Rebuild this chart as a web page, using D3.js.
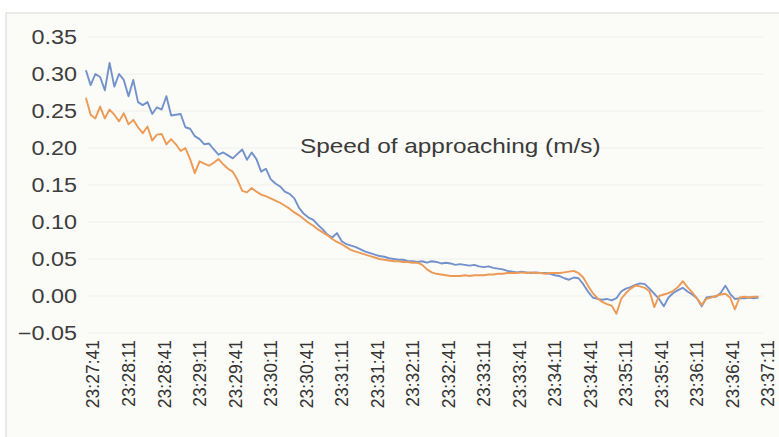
<!DOCTYPE html>
<html>
<head>
<meta charset="utf-8">
<script src="https://cdn.jsdelivr.net/npm/d3@7"></script>
<style>
  html, body { margin: 0; padding: 0; background: #ffffff; }
  svg { display: block; }
</style>
</head>
<body>
<svg id="chart" width="779" height="437"></svg>
<script>
// ---------- data ----------
const chartTitle = "Speed of approaching (m/s)";
const tickLabels = ["23:27:41","23:28:11","23:28:41","23:29:11","23:29:41","23:30:11","23:30:41",
  "23:31:11","23:31:41","23:32:11","23:32:41","23:33:11","23:33:41","23:34:11","23:34:41",
  "23:35:11","23:35:41","23:36:11","23:36:41","23:37:11"];
const yTickValues = [-0.05, 0, 0.05, 0.10, 0.15, 0.20, 0.25, 0.30, 0.35];
const sampleStart = "23:27:35";
const sampleStepSeconds = 4;
const seriesBlue = [
  0.305,0.285,0.300,0.296,0.278,0.315,0.283,0.300,0.292,0.270,
  0.292,0.262,0.258,0.262,0.246,0.255,0.252,0.270,0.244,0.245,
  0.246,0.228,0.226,0.216,0.212,0.205,0.206,0.198,0.191,0.194,
  0.190,0.186,0.192,0.198,0.184,0.194,0.185,0.168,0.172,0.158,
  0.152,0.148,0.141,0.138,0.132,0.119,0.111,0.106,0.103,0.096,
  0.090,0.083,0.079,0.085,0.074,0.070,0.068,0.066,0.063,0.060,
  0.058,0.056,0.054,0.053,0.051,0.050,0.049,0.049,0.047,0.047,
  0.046,0.047,0.045,0.047,0.046,0.044,0.045,0.044,0.042,0.043,
  0.042,0.041,0.042,0.040,0.039,0.040,0.038,0.037,0.036,0.034,
  0.033,0.032,0.033,0.032,0.031,0.032,0.031,0.031,0.030,0.028,
  0.027,0.024,0.022,0.025,0.024,0.016,0.006,-0.002,-0.004,-0.005,
  -0.004,-0.006,-0.003,0.006,0.010,0.012,0.015,0.017,0.016,0.010,
  0.003,-0.004,-0.014,-0.002,0.004,0.008,0.011,0.006,0.002,-0.003,
  -0.014,-0.002,-0.001,-0.001,0.004,0.014,0.003,-0.004,-0.003,-0.003,
  -0.002,-0.003,-0.002
];
const seriesOrange = [
  0.268,0.245,0.240,0.256,0.240,0.252,0.245,0.236,0.247,0.232,
  0.238,0.228,0.220,0.229,0.210,0.218,0.219,0.205,0.212,0.205,
  0.196,0.200,0.185,0.166,0.182,0.179,0.176,0.180,0.185,0.178,
  0.172,0.168,0.157,0.142,0.140,0.146,0.141,0.137,0.135,0.132,
  0.129,0.126,0.122,0.118,0.113,0.109,0.104,0.099,0.095,0.090,
  0.086,0.082,0.077,0.073,0.070,0.066,0.062,0.060,0.058,0.056,
  0.054,0.052,0.050,0.049,0.048,0.047,0.047,0.046,0.046,0.045,
  0.045,0.042,0.036,0.032,0.030,0.029,0.028,0.027,0.027,0.027,
  0.028,0.027,0.028,0.028,0.028,0.029,0.029,0.030,0.030,0.031,
  0.031,0.031,0.032,0.031,0.032,0.031,0.031,0.030,0.031,0.031,
  0.031,0.032,0.033,0.034,0.031,0.025,0.014,0.004,-0.003,-0.008,
  -0.011,-0.013,-0.024,-0.004,0.004,0.010,0.014,0.013,0.011,0.006,
  -0.015,0.000,0.002,0.004,0.007,0.012,0.020,0.012,0.005,-0.003,
  -0.012,-0.004,-0.002,0.000,0.002,0.003,-0.002,-0.018,-0.002,-0.001,
  -0.002,-0.001,-0.001
];

// ---------- chart ----------
const svg = d3.select("#chart");
const parse = d3.timeParse("%H:%M:%S");
const tickDates = tickLabels.map(parse);
const t0 = parse(sampleStart);
const times = seriesBlue.map((_, i) => d3.timeSecond.offset(t0, i * sampleStepSeconds));

const x = d3.scaleTime().domain([tickDates[0], tickDates[tickDates.length - 1]]).range([93, 768]);
const y = d3.scaleLinear().domain([-0.05, 0.35]).range([333, 37]);

// panel
svg.append("rect").attr("x", 6).attr("y", 13).attr("width", 800).attr("height", 440)
  .attr("fill", "#fbfbf8").attr("stroke", "#dcdcdc").attr("stroke-width", 1.2);

// gridlines
svg.append("g").selectAll("line").data(yTickValues).join("line")
  .attr("x1", 88).attr("x2", 763)
  .attr("y1", d => y(d)).attr("y2", d => y(d))
  .attr("stroke", "#efefea").attr("stroke-width", 1);

// y axis labels
const fmt = d3.format(".2f");
svg.append("g").selectAll("text").data(yTickValues).join("text")
  .attr("transform", d => `translate(77,${y(d)}) scale(1.2,1)`)
  .attr("text-anchor", "end").attr("dy", "0.36em")
  .attr("font-family", "Liberation Sans, Arial, sans-serif")
  .attr("font-size", 19.5).attr("fill", "#3d3d3d")
  .text(d => fmt(d));

// x axis labels
const xAxis = d3.axisBottom(x).tickValues(tickDates).tickFormat(d3.timeFormat("%H:%M:%S")).tickSize(0);
const gx = svg.append("g").attr("transform", "translate(0,340)").call(xAxis);
gx.select(".domain").remove();
gx.selectAll("text")
  .attr("transform", "rotate(-90)")
  .attr("text-anchor", "end")
  .attr("x", 0).attr("y", 0).attr("dy", "0.34em")
  .attr("font-family", "Liberation Sans, Arial, sans-serif")
  .attr("font-size", 17.5).attr("fill", "#333");

// lines
const line = d3.line().x((d, i) => x(times[i])).y(d => y(d));
svg.append("path").datum(seriesBlue).attr("d", line)
  .attr("fill", "none").attr("stroke", "#7392cb").attr("stroke-width", 1.9).attr("stroke-linejoin", "round");
svg.append("path").datum(seriesOrange).attr("d", line)
  .attr("fill", "none").attr("stroke", "#ec9a55").attr("stroke-width", 1.9).attr("stroke-linejoin", "round");

// title
svg.append("text")
  .attr("transform", "translate(300,153) scale(1.16,1)")
  .attr("font-family", "Liberation Sans, Arial, sans-serif")
  .attr("font-size", 21).attr("fill", "#3a3a3a")
  .text(chartTitle);
</script>
</body>
</html>
